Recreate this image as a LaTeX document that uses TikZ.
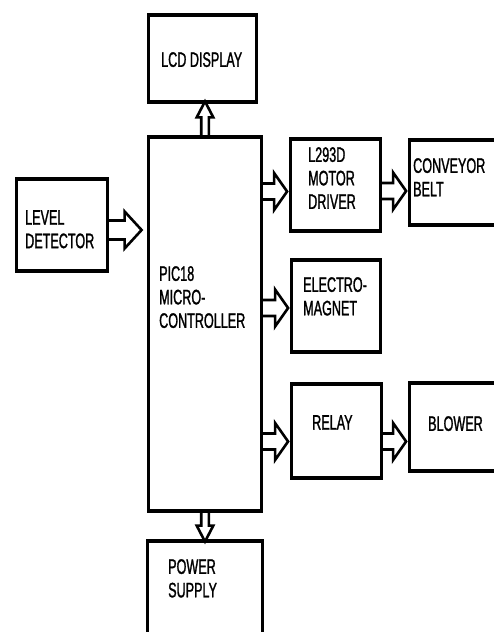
\documentclass[tikz,border=0pt]{standalone}
\usepackage{fontspec}
\newfontfamily\blkfont{Liberation Sans}[FakeStretch=0.6, FakeBold=1.2]
\usepackage{tikz}
\usetikzlibrary{calc, backgrounds}
\tikzset{
  blk shaft/.store in=\ashaft, blk head/.store in=\ahead,
  blk len/.store in=\alen, blk gap/.store in=\agap,
  blk shaft=8, blk head=18, blk len=14, blk gap=0
}
\tikzstyle{blk} = [rectangle, draw=black, line width=2.8pt, inner sep=0pt,
  path picture={\draw[line width=5pt]
    (path picture bounding box.north west) -- (path picture bounding box.north east)
    (path picture bounding box.south west) -- (path picture bounding box.south east);}]
\tikzstyle{txt} = [anchor=north west, inner sep=0pt, align=left, font=\blkfont\fontsize{21}{23.5}\selectfont]
\tikzstyle{hollow} = [draw=black, fill=white, line width=2.6pt, line join=miter,
  to path={let \p1=(\tikztostart), \p2=(\tikztotarget),
    \n1={atan2(\y2-\y1,\x2-\x1)}, \n2={veclen(\x2-\x1,\y2-\y1)-\agap} in
    [shift={(\p1)}, rotate=\n1]
    (0pt,{\ashaft*1pt}) -- ({(\n2-\alen)*1pt},{\ashaft*1pt})
    -- ({(\n2-\alen)*1pt},{\ahead*1pt}) -- ({\n2*1pt},0pt)
    -- ({(\n2-\alen)*1pt},{-\ahead*1pt}) -- ({(\n2-\alen)*1pt},{-\ashaft*1pt})
    -- (0pt,{-\ashaft*1pt})}]
\tikzstyle{fatarrow} = [hollow, blk shaft=8, blk head=18.5, blk len=13, blk gap=2]
\tikzstyle{thinarrow} = [hollow, blk shaft=3.8, blk head=8.3, blk len=16, blk gap=-2.5]

\begin{document}
\begin{tikzpicture}[x=1pt, y=-1pt]
  \useasboundingbox (0,0) rectangle (493,632);

  % Blocks
  \node[blk, minimum width=108, minimum height=88] (lcd) at (202.5,58.5) {};
  \node[blk, minimum width=113, minimum height=375] (mcu) at (205,324) {};
  \node[blk, minimum width=91, minimum height=93] (level) at (62,225) {};
  \node[blk, minimum width=90, minimum height=93] (driver) at (335.5,185) {};
  \node[blk, minimum width=99, minimum height=86] (belt) at (459,182.5) {};
  \node[blk, minimum width=89, minimum height=93] (magnet) at (336,306) {};
  \node[blk, minimum width=90, minimum height=95] (relay) at (336.5,431) {};
  \node[blk, minimum width=99, minimum height=89] (blower) at (459,427) {};
  \node[blk, minimum width=115, minimum height=118] (power) at (205,599.5) {};

  % Texts
  \node[txt] (lcdtext) at (161,52) {LCD DISPLAY};
  \node[txt] (mcutext) at (159,266) {PIC18\\MICRO-\\CONTROLLER};
  \node[txt] (leveltext) at (25,210) {LEVEL\\DETECTOR};
  \node[txt] (drivertext) at (308,147) {L293D\\MOTOR\\DRIVER};
  \node[txt] (belttext) at (413,158) {CONVEYOR\\BELT};
  \node[txt] (magnettext) at (303,277) {ELECTRO-\\MAGNET};
  \node[txt] (relaytext) at (312,415) {RELAY};
  \node[txt] (blowertext) at (428,416) {BLOWER};
  \node[txt] (powertext) at (168,559) {POWER\\SUPPLY};

  % Hollow arrows
  \begin{scope}[on background layer]
    \draw[fatarrow, blk shaft=9.5, blk len=17, blk gap=5.5] ($(level.east)+(0,5)$) to ($(level.east -| mcu.west)+(0,5)$);
    \draw[thinarrow] (mcu.north) to (mcu.north |- lcd.south);
    \draw[thinarrow] (mcu.south) to (mcu.south |- power.north);
    \draw[fatarrow] ($(mcu.east |- driver.west)+(0,6.5)$) to ($(driver.west)+(0,6.5)$);
    \draw[fatarrow] ($(mcu.east |- magnet.west)+(0,2)$) to ($(magnet.west)+(0,2)$);
    \draw[fatarrow] ($(mcu.east |- relay.west)+(0,10.5)$) to ($(relay.west)+(0,10.5)$);
    \draw[fatarrow] ($(driver.east)+(0,6)$) to ($(driver.east -| belt.west)+(0,6)$);
    \draw[fatarrow] ($(relay.east)+(0,10.5)$) to ($(relay.east -| blower.west)+(0,10.5)$);
  \end{scope}
\end{tikzpicture}
\end{document}
